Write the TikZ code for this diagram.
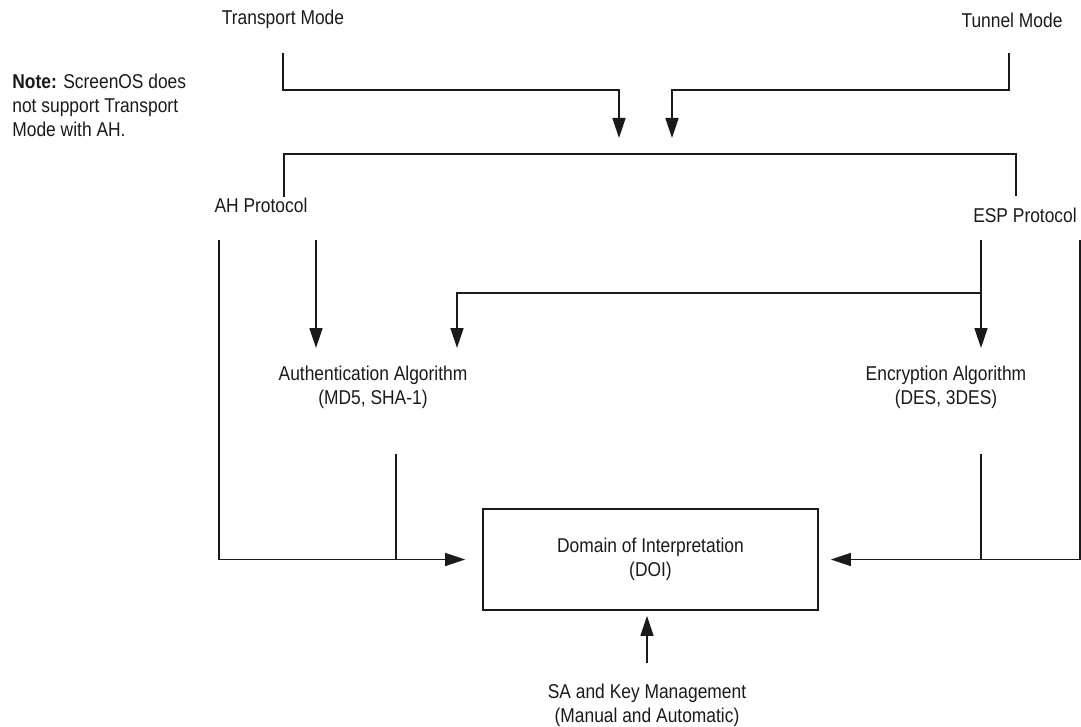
\documentclass[tikz,border=0pt]{standalone}
\usepackage{fontspec}
\setmainfont[FakeStretch=0.87]{Liberation Sans}
\usetikzlibrary{arrows.meta,positioning}
\definecolor{ink}{HTML}{1A1A1A}

\begin{document}
\begin{tikzpicture}[x=0.5pt,y=-0.5pt,
  lab/.style={font=\fontsize{10}{12}\selectfont,text=ink,inner sep=0pt,align=center},
  wire/.style={draw=ink,line width=0.8pt},
  arr/.style={wire,-{Triangle[length=10pt,width=6.5pt]}},
  doibox/.style={draw=ink,line width=0.9pt,minimum width=167.5pt,minimum height=50.5pt,inner sep=0pt}]
\useasboundingbox (0,0) rectangle (1081,727);
% modes
\node[lab] (trans) at (283,19) {Transport Mode};
\node[lab] (tunnel) at (1012,20) {Tunnel Mode};
\node[lab,align=left,anchor=west] (note) at (12,105) {\textbf{Note:} ScreenOS does\\not support Transport\\Mode with AH.};
\coordinate (transout) at (283,53);
\coordinate (tunnelout) at (1009,53);
\coordinate (modein1) at (619,138);
\coordinate (modein2) at (672,138);
\draw[arr] (transout) -- ++(0,37) -| (modein1);
\draw[arr] (tunnelout) -- ++(0,37) -| (modein2);
% protocols
\node[lab] (ah) at (261,205) {AH Protocol};
\node[lab] (esp) at (1025,215) {ESP Protocol};
\coordinate (ahtop) at (284,197);
\coordinate (esptop) at (1016,196);
\draw[wire] (ahtop) -- ++(0,-43) -| (esptop);
\coordinate (ahleft) at (219,240);
\coordinate (ahdown) at (316,240);
\coordinate (espdown) at (981,240);
\coordinate (espright) at (1080,240);
% algorithms
\node[lab] (auth) at (373,387) {Authentication Algorithm\\(MD5, SHA-1)};
\node[lab] (enc) at (946,387) {Encryption Algorithm\\(DES, 3DES)};
\coordinate (authin1) at (316,348);
\coordinate (authin2) at (457,348);
\coordinate (encin) at (981,348);
\draw[arr] (ahdown) -- (authin1);
\draw[arr] (espdown) -- (encin);
\draw[arr] (espdown) ++(0,53) -| (authin2);
% domain of interpretation
\node[doibox,lab] (doi) at (650.5,559.5) {Domain of Interpretation\\(DOI)};
\coordinate (authout) at (396,454);
\coordinate (encout) at (981,454);
\draw[arr,shorten >=8.5pt] (ahleft) |- (doi.west);
\draw[wire] (authout) -- (authout |- doi.west);
\draw[arr,shorten >=6pt] (espright) |- (doi.east);
\draw[wire] (encout) -- (encout |- doi.east);
\node[lab] (sa) at (647,705) {SA and Key Management\\(Manual and Automatic)};
\coordinate (saout) at (647,663);
\draw[arr,shorten >=2.5pt] (saout) -- (saout |- doi.south);
\end{tikzpicture}
\end{document}
